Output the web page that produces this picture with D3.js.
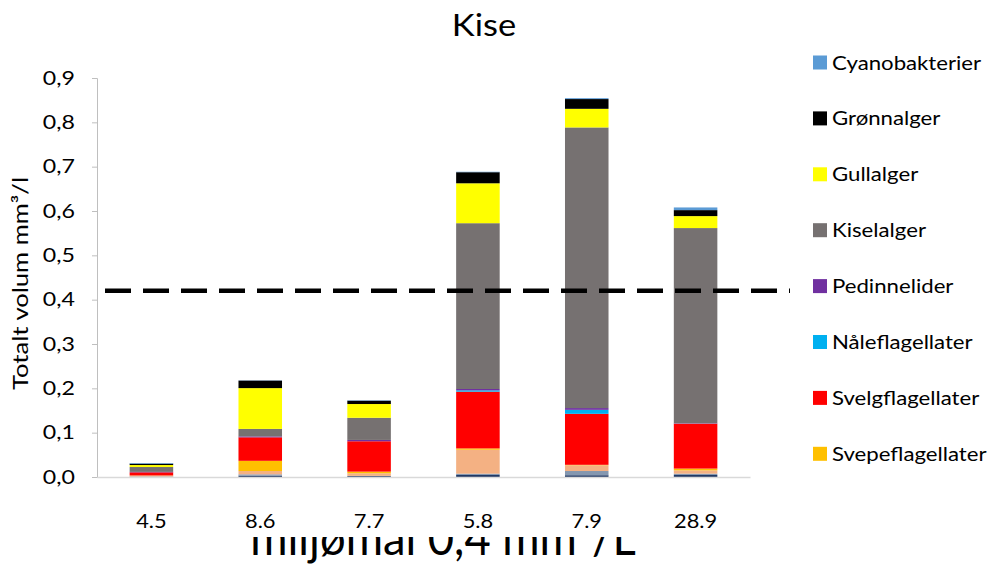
<!DOCTYPE html>
<html><head><meta charset="utf-8">
<script src="https://cdn.jsdelivr.net/npm/d3@7"></script>
<style>html,body{margin:0;padding:0;background:#fff;}svg{display:block;}</style>
</head><body>
<script>
// ---- data ----
const categories = ["4.5","8.6","7.7","5.8","7.9","28.9"];
const oyealger        = [0.0005,0.003,0.002,0.0045,0.004,0.0045];
const fureflagellater = [0.0005,0.003,0.0005,0.003,0.0095,0.003];
const myalger         = [0.002,0.0075,0.006,0.054,0.013,0.0075];
const svepeflagellater= [0.0005,0.023,0.0036,0.003,0.001,0.004];
const svelgflagellater= [0.007,0.053,0.0685,0.128,0.115,0.1015];
const naaleflagellater= [0,0,0,0.003,0.009,0.0005];
const pedinnelider    = [0.001,0.002,0.003,0.003,0.004,0.0005];
const kiselalger      = [0.011,0.017,0.050,0.374,0.633,0.440];
const gullalger       = [0.0045,0.092,0.031,0.090,0.042,0.027];
const gronnalger      = [0.003,0.017,0.0075,0.025,0.022,0.0135];
const cyanobakterier  = [0.0015,0.0005,0.001,0.001,0.002,0.006];
const yTicks = [0,0.1,0.2,0.3,0.4,0.5,0.6,0.7,0.8,0.9];
const threshold = 0.42;

const seriesNames = ["Øyealger","Fureflagellater","My-alger","Svepeflagellater","Svelgflagellater","Nåleflagellater","Pedinnelider","Kiselalger","Gullalger","Grønnalger","Cyanobakterier"];
const seriesValues = [oyealger,fureflagellater,myalger,svepeflagellater,svelgflagellater,naaleflagellater,pedinnelider,kiselalger,gullalger,gronnalger,cyanobakterier];
const seriesColors = ["#203864","#8497B0","#F4B183","#FFC000","#FF0000","#00B0F0","#7030A0","#767171","#FFFF00","#000000","#5B9BD5"];
const legendNames = ["Cyanobakterier","Grønnalger","Gullalger","Kiselalger","Pedinnelider","Nåleflagellater","Svelgflagellater","Svepeflagellater"];

const W = 989, H = 564;
const FONT = "Lato, 'Open Sans', sans-serif";
const m = {left:97, right:750, top:78, bottom:477};

const svg = d3.select("body").append("svg").attr("width",W).attr("height",H);

function sText(parent, px, py, sx, txt, size, anchor){
  return parent.append("text")
    .attr("transform",`translate(${px},${py}) scale(${sx},1)`)
    .attr("text-anchor",anchor||"start").attr("font-family",FONT).attr("font-size",size).attr("fill","#000")
    .text(txt);
}

const x = d3.scaleBand().domain(categories).range([m.left,m.right]).paddingInner(0.6).paddingOuter(0.3);
const y = d3.scaleLinear().domain([0,0.9]).range([m.bottom,m.top]);

const table = categories.map((c,i)=>{const o={cat:c}; seriesNames.forEach((n,j)=>o[n]=seriesValues[j][i]); return o;});
const stack = d3.stack().keys(seriesNames)(table);

// x-axis title, only its lower part is visible (as in the reference)
const clipTop = 537;
const xt = svg.append("svg").attr("x",0).attr("y",clipTop).attr("width",W).attr("height",H-clipTop).attr("overflow","hidden");
sText(xt, 443, 555-clipTop, 0.945, "miljømål 0,4 mm³/L", 48, "middle");

// bars
svg.append("g").selectAll("g").data(stack).join("g").attr("fill",(d,i)=>seriesColors[i])
  .selectAll("rect").data(d=>d).join("rect")
  .attr("x",d=>x(d.data.cat)).attr("width",x.bandwidth())
  .attr("y",d=>y(d[1])).attr("height",d=>Math.max(0,y(d[0])-y(d[1])));

// y axis
const ya = svg.append("g").attr("transform",`translate(${m.left},0)`)
  .call(d3.axisLeft(y).tickValues(yTicks).tickSize(5).tickFormat(""));
ya.select(".domain").attr("stroke","#BFBFBF").attr("stroke-width",1);
ya.selectAll(".tick line").attr("stroke","#BFBFBF");
yTicks.forEach(t=>{
  sText(svg, m.left-22, y(t), 1.22, d3.format(".1f")(t).replace(".",","), 19, "end").attr("dy","0.35em");
});

// x axis
const xa = svg.append("g").attr("transform",`translate(0,${m.bottom})`)
  .call(d3.axisBottom(x).tickSize(0).tickFormat(""));
xa.select(".domain").attr("stroke","#D9D9D9").attr("stroke-width",1.5);
categories.forEach(c=>{
  sText(svg, x(c)+x.bandwidth()/2, 528, 1.15, c, 19, "middle");
});

// threshold dashed line
svg.append("line")
  .attr("x1",m.left+8).attr("x2",m.right+40)
  .attr("y1",y(threshold)).attr("y2",y(threshold))
  .attr("stroke","#000").attr("stroke-width",4.5).attr("stroke-dasharray","26,12");

// title
sText(svg, 484, 36, 1.15, "Kise", 30, "middle");

// y title
svg.append("text").attr("transform",`translate(28,${(m.top+m.bottom)/2+6}) rotate(-90) scale(1.22,1)`)
  .attr("text-anchor","middle").attr("font-family",FONT).attr("font-size",21).attr("fill","#000")
  .text("Totalt volum mm³/l");

// legend
const lg = svg.append("g");
legendNames.forEach((n,i)=>{
  const col = seriesColors[seriesNames.indexOf(n)];
  const cy = 62.5 + i*55.9;
  lg.append("rect").attr("x",813).attr("y",cy-7).attr("width",14).attr("height",14).attr("fill",col);
  sText(lg, 832, cy, 1.11, n, 20, "start").attr("dy","0.35em");
});
</script>
</body></html>
